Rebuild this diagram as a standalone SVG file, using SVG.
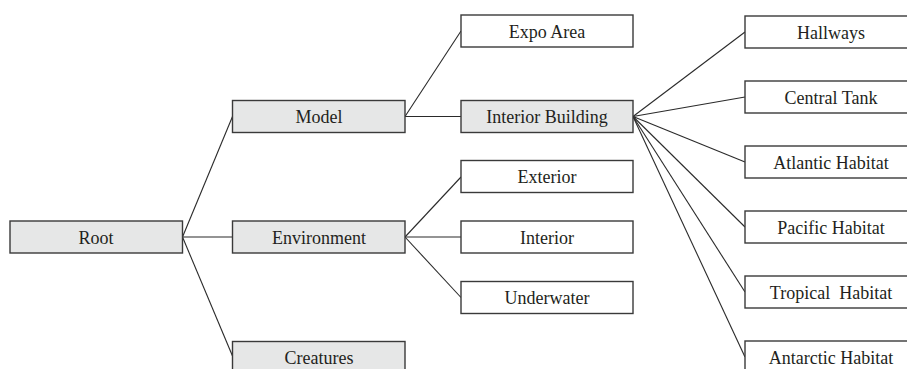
<svg xmlns="http://www.w3.org/2000/svg" width="907" height="369" viewBox="0 0 907 369">
  <style>
    .box { stroke: #3a3a3a; stroke-width: 1.4; }
    .filled { fill: #e6e7e7; }
    .plain { fill: #ffffff; }
    .label { font-family: "Liberation Serif", "Times New Roman", serif; font-size: 18px; fill: #231f20; text-anchor: middle; white-space: pre; }
    .link { stroke: #2a2a2a; stroke-width: 1.1; fill: none; }
  </style>
  <rect width="907" height="369" fill="#ffffff"/>

  <!-- tree edges -->
  <g id="connectors">
    <line class="link" x1="182.5" y1="237" x2="232.5" y2="116.5"/>
    <line class="link" x1="182.5" y1="237" x2="232.5" y2="237"/>
    <line class="link" x1="182.5" y1="237" x2="232.5" y2="356"/>
    <line class="link" x1="405" y1="116.5" x2="461" y2="31"/>
    <line class="link" x1="405" y1="116.5" x2="461" y2="116.5"/>
    <line class="link" x1="405" y1="237" x2="461" y2="177"/>
    <line class="link" x1="405" y1="237" x2="461" y2="237"/>
    <line class="link" x1="405" y1="237" x2="461" y2="297.5"/>
    <line class="link" x1="633" y1="116.5" x2="745" y2="32"/>
    <line class="link" x1="633" y1="116.5" x2="745" y2="97"/>
    <line class="link" x1="633" y1="116.5" x2="745" y2="162"/>
    <line class="link" x1="633" y1="116.5" x2="745" y2="227"/>
    <line class="link" x1="633" y1="116.5" x2="745" y2="292"/>
    <line class="link" x1="633" y1="116.5" x2="745" y2="357"/>
  </g>

  <g id="root">
    <rect class="box filled" x="10" y="221" width="172.5" height="32"/>
    <text class="label" x="96" y="243.5">Root</text>
  </g>
  <g id="model">
    <rect class="box filled" x="232.5" y="100.5" width="172.5" height="32"/>
    <text class="label" x="319" y="123">Model</text>
  </g>
  <g id="environment">
    <rect class="box filled" x="232.5" y="221" width="172.5" height="32"/>
    <text class="label" x="319" y="243.5">Environment</text>
  </g>
  <g id="creatures">
    <rect class="box filled" x="232.5" y="341.5" width="172.5" height="32"/>
    <text class="label" x="319" y="364">Creatures</text>
  </g>

  <g id="expo-area">
    <rect class="box plain" x="461" y="15" width="172" height="32"/>
    <text class="label" x="547" y="37.5">Expo Area</text>
  </g>
  <g id="interior-building">
    <rect class="box filled" x="461" y="100.5" width="172" height="32"/>
    <text class="label" x="547" y="123">Interior Building</text>
  </g>
  <g id="exterior">
    <rect class="box plain" x="461" y="160.5" width="172" height="32"/>
    <text class="label" x="547" y="183">Exterior</text>
  </g>
  <g id="interior">
    <rect class="box plain" x="461" y="221" width="172" height="32"/>
    <text class="label" x="547" y="243.5">Interior</text>
  </g>
  <g id="underwater">
    <rect class="box plain" x="461" y="281.5" width="172" height="32"/>
    <text class="label" x="547" y="304">Underwater</text>
  </g>

  <g id="hallways">
    <rect class="box plain" x="745" y="16" width="172" height="32"/>
    <text class="label" x="831" y="38.5">Hallways</text>
  </g>
  <g id="central-tank">
    <rect class="box plain" x="745" y="81" width="172" height="32"/>
    <text class="label" x="831" y="103.5">Central Tank</text>
  </g>
  <g id="atlantic-habitat">
    <rect class="box plain" x="745" y="146" width="172" height="32"/>
    <text class="label" x="831" y="168.5">Atlantic Habitat</text>
  </g>
  <g id="pacific-habitat">
    <rect class="box plain" x="745" y="211" width="172" height="32"/>
    <text class="label" x="831" y="233.5">Pacific Habitat</text>
  </g>
  <g id="tropical-habitat">
    <rect class="box plain" x="745" y="276" width="172" height="32"/>
    <text class="label" x="831" y="298.5">Tropical  Habitat</text>
  </g>
  <g id="antarctic-habitat">
    <rect class="box plain" x="745" y="341" width="172" height="32"/>
    <text class="label" x="831" y="363.5">Antarctic Habitat</text>
  </g>
</svg>
